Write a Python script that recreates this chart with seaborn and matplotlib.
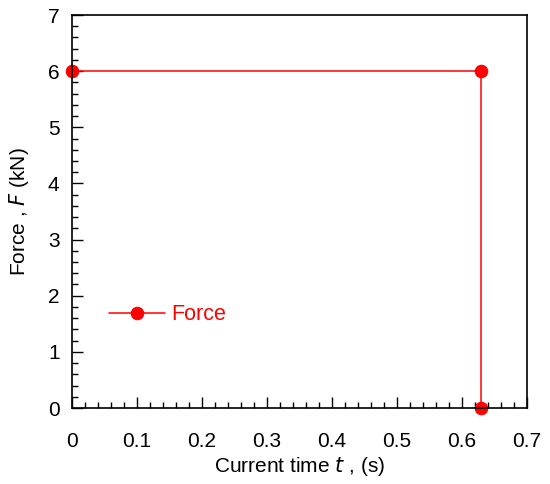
import pandas as pd
import matplotlib
matplotlib.use('Agg')
import matplotlib.pyplot as plt
import seaborn as sns
from matplotlib.ticker import MultipleLocator, FuncFormatter

# Data
time_s = [0.0, 0.63, 0.63]
force_kn = [6.0, 6.0, 0.0]

df = pd.DataFrame({'t': time_s, 'F': force_kn, 'series': 'Force'})

sns.set_style('white')
plt.rcParams['font.family'] = ['Liberation Sans', 'DejaVu Sans']
plt.rcParams['text.color'] = 'black'
plt.rcParams['axes.labelcolor'] = 'black'
plt.rcParams['xtick.color'] = 'black'
plt.rcParams['ytick.color'] = 'black'

fig = plt.figure(figsize=(5.5, 4.84), dpi=100)
ax = fig.add_axes([0.131, 0.157, 0.827, 0.812])

sns.lineplot(data=df, x='t', y='F', hue='series', palette=['red'], sort=False,
             estimator=None, marker='o', markersize=9, markeredgecolor='red',
             linewidth=1.1, ax=ax, clip_on=False)

ax.set_xlim(0, 0.7)
ax.set_ylim(0, 7)
ax.xaxis.set_major_locator(MultipleLocator(0.1))
ax.xaxis.set_minor_locator(MultipleLocator(0.02))
ax.yaxis.set_major_locator(MultipleLocator(1))
ax.yaxis.set_minor_locator(MultipleLocator(0.2))
ax.xaxis.set_major_formatter(FuncFormatter(lambda v, p: '0' if abs(v) < 1e-9 else f'{v:.1f}'))
ax.yaxis.set_major_formatter(FuncFormatter(lambda v, p: f'{v:.0f}'))
ax.tick_params(which='both', direction='in', top=False, right=False, bottom=True, left=True,
               labelsize=15, color='black', labelcolor='black')
ax.tick_params(axis='x', which='major', pad=17)
ax.tick_params(axis='y', which='major', pad=9)
ax.tick_params(which='major', length=8, width=1)
ax.tick_params(which='minor', length=4, width=1)
for s in ax.spines.values():
    s.set_color('black')
    s.set_linewidth(1.2)

ax.set_xlabel('Current time $\\mathit{t}$ , (s)', fontsize=15, labelpad=3)
ax.set_ylabel('Force , $\\mathit{F}$ (kN)', fontsize=15, labelpad=12)

leg = ax.legend(loc='center left', bbox_to_anchor=(0.039, 0.237), frameon=False,
                fontsize=15.5, handlelength=2.6, handletextpad=0.3)
for txt in leg.get_texts():
    txt.set_color('red')

fig.savefig('out.png', dpi=100)
